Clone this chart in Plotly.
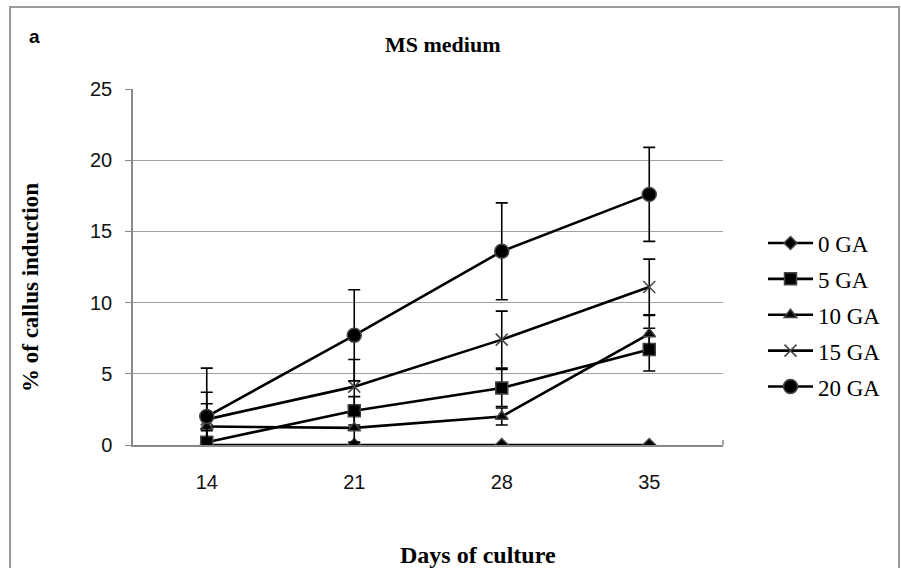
import plotly.graph_objects as go

days = ["14", "21", "28", "35"]
series_names = ["0 GA", "5 GA", "10 GA", "15 GA", "20 GA"]
ga0 = [0, 0, 0, 0]
ga5 = [0.2, 2.4, 4.0, 6.7]
ga10 = [1.3, 1.2, 2.0, 7.8]
ga15 = [1.8, 4.1, 7.4, 11.1]
ga20 = [2.0, 7.7, 13.6, 17.6]
err0 = [0, 0, 0, 0]
err5 = [0.8, 1.0, 1.3, 1.5]
err10 = [1.6, 1.0, 0.6, 1.3]
err15 = [1.9, 1.9, 2.0, 1.95]
err20 = [3.4, 3.2, 3.4, 3.3]
y_ticks = [0, 5, 10, 15, 20, 25]

values = [ga0, ga5, ga10, ga15, ga20]
errors = [err0, err5, err10, err15, err20]
symbols = ["diamond", "square", "triangle-up", "x-thin", "circle"]
sizes = [10, 12, 11, 12, 14]

fig = go.Figure()
for name, v, e, s, sz in zip(series_names, values, errors, symbols, sizes):
    show_err = any(x > 0 for x in e)
    fig.add_trace(go.Scatter(
        x=days, y=v, name=name, mode="lines+markers", legendgroup=name,
        line=dict(color="black", width=2.6),
        marker=dict(symbol=s, size=sz, color="black",
                    line=dict(color="#444444", width=1.5)),
        error_y=dict(type="data", array=e, visible=show_err,
                     color="black", thickness=1.6, width=6),
    ))

W0, W1, H0, H1 = 133, 723, 89, 445
PW, PH = W1 - W0, H1 - H0

def px(x):
    return (x - W0) / PW

def py(y):
    return (H1 - y) / PH

def label(text, x, y, size, family="Liberation Serif", angle=0):
    return dict(text=text, x=px(x), y=py(y), xref="paper", yref="paper",
                xanchor="center", yanchor="middle", showarrow=False,
                textangle=angle, font=dict(family=family, size=size, color="black"))

fig.update_layout(
    width=901, height=568,
    paper_bgcolor="white", plot_bgcolor="white",
    margin=dict(l=W0, r=901 - W1, t=H0, b=568 - H1),
    font=dict(family="Liberation Serif", color="black"),
    showlegend=True,
    legend=dict(x=px(763), y=py(315), yanchor="middle", xanchor="left",
                font=dict(family="Liberation Serif", size=23, color="black"),
                itemwidth=45, tracegroupgap=3, traceorder="grouped",
                bgcolor="rgba(0,0,0,0)"),
    xaxis=dict(type="category", showline=True, linecolor="#888888", linewidth=1.5,
               ticks="", showgrid=False,
               tickfont=dict(family="Liberation Sans", size=20, color="#111111"),
               range=[-0.5, 3.5], zeroline=False, ticklabelstandoff=18),
    yaxis=dict(range=[0, 25], tickvals=y_ticks, showline=True, linecolor="#888888", linewidth=1.5,
               ticks="outside", ticklen=6, tickcolor="#888888",
               showgrid=True, gridcolor="#a0a0a0", gridwidth=1.2, zeroline=False,
               ticklabelstandoff=9,
               tickfont=dict(family="Liberation Sans", size=20, color="#111111")),
    shapes=[dict(type="rect", xref="paper", yref="paper",
                 x0=px(10), x1=px(899), y0=py(572), y1=py(7),
                 line=dict(color="#9a9a9a", width=2)),
            dict(type="line", xref="paper", yref="paper",
                 x0=1, x1=1, y0=0, y1=py(440),
                 line=dict(color="#888888", width=1.5))],
    annotations=[
        label("<b>a</b>", 34, 36, 19, family="Liberation Sans"),
        label("<b>MS medium</b>", 443, 44, 22),
        label("<b>Days of culture</b>", 478, 555, 24),
        label("<b>% of callus induction</b>", 30, 288, 23, angle=-90),
    ],
)

fig.write_html("out.html", config={"displayModeBar": False},
               post_script="document.body.style.margin='0px';")
